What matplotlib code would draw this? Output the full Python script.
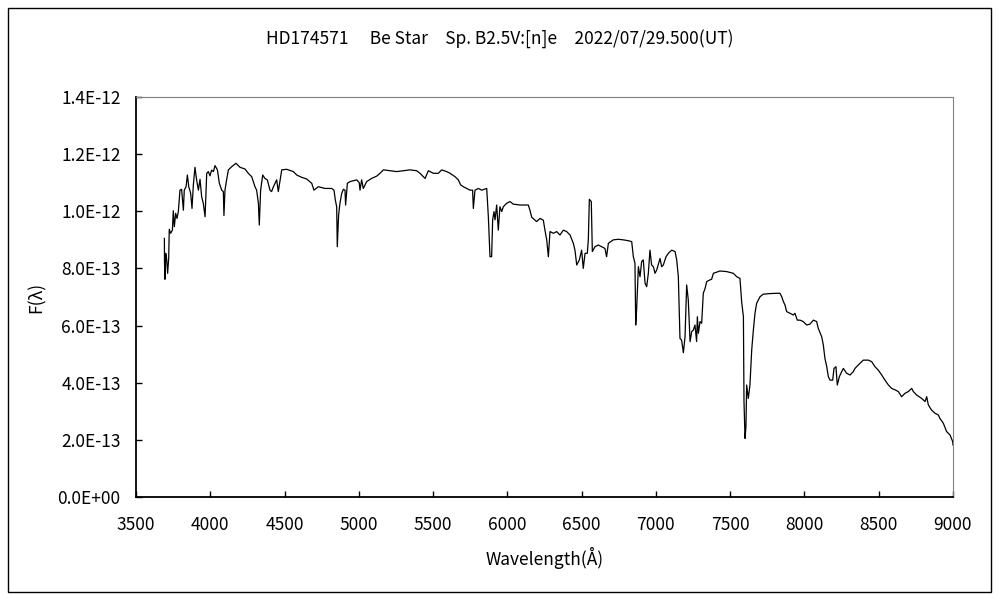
import matplotlib
matplotlib.use("Agg")
import matplotlib.pyplot as plt
from matplotlib.patches import Rectangle
import numpy as np

plt.rcParams['font.family'] = ['Noto Sans CJK JP', 'DejaVu Sans']

# spectrum (wavelength in A, flux in 1E-12)
wavelength = [
    3691, 3692, 3695, 3700, 3706, 3713, 3720, 3724, 3733, 3745, 3751, 3758, 3767, 3776, 3785,
    3796, 3807, 3819, 3825, 3837, 3846, 3855, 3868, 3877, 3886, 3897, 3908, 3920, 3931, 3942,
    3953, 3965, 3976, 3987, 3998, 4009, 4021, 4032, 4048, 4061, 4077, 4088, 4092, 4099, 4110,
    4122, 4144, 4173, 4200, 4234, 4256, 4279, 4301, 4312, 4324, 4330, 4339, 4353, 4368, 4384,
    4402, 4413, 4425, 4447, 4458, 4481, 4514, 4559, 4582, 4615, 4649, 4683, 4698, 4727, 4772,
    4817, 4833, 4842, 4851, 4855, 4864, 4873, 4885, 4896, 4907, 4911, 4923, 4941, 4963, 4986,
    5003, 5008, 5019, 5030, 5053, 5086, 5120, 5143, 5165, 5210, 5255, 5300, 5345, 5389, 5412,
    5446, 5468, 5502, 5535, 5558, 5591, 5614, 5648, 5670, 5686, 5704, 5726, 5748, 5766, 5771,
    5782, 5805, 5827, 5861, 5872, 5883, 5894, 5901, 5910, 5917, 5928, 5939, 5950, 5962, 5973,
    5995, 6018, 6040, 6085, 6141, 6152, 6164, 6186, 6197, 6220, 6242, 6253, 6265, 6276, 6287,
    6310, 6332, 6354, 6377, 6399, 6422, 6444, 6455, 6467, 6484, 6500, 6511, 6523, 6538, 6545,
    6552, 6565, 6572, 6590, 6612, 6635, 6657, 6668, 6680, 6713, 6747, 6781, 6814, 6837, 6848,
    6859, 6864, 6870, 6882, 6893, 6904, 6915, 6927, 6938, 6949, 6960, 6971, 6983, 6994, 7005,
    7028, 7039, 7050, 7068, 7084, 7106, 7129, 7140, 7151, 7162, 7173, 7185, 7196, 7207, 7218,
    7230, 7241, 7252, 7263, 7274, 7279, 7286, 7297, 7308, 7319, 7331, 7342, 7364, 7375, 7387,
    7431, 7476, 7521, 7544, 7566, 7577, 7589, 7593, 7600, 7606, 7611, 7622, 7633, 7645, 7656,
    7667, 7678, 7701, 7723, 7768, 7813, 7835, 7847, 7858, 7869, 7880, 7903, 7925, 7936, 7952,
    7970, 7992, 8015, 8037, 8060, 8082, 8093, 8116, 8127, 8138, 8150, 8161, 8172, 8190, 8199,
    8212, 8221, 8235, 8251, 8262, 8284, 8307, 8329, 8340, 8351, 8374, 8396, 8430, 8452, 8475,
    8497, 8520, 8542, 8565, 8587, 8610, 8632, 8654, 8677, 8699, 8722, 8733, 8755, 8789, 8812,
    8823, 8834, 8856, 8879, 8901, 8912, 8935, 8957, 8980, 8998, 9000,
]
flux = [
    0.905, 0.818, 0.762, 0.853, 0.835, 0.783, 0.835, 0.937, 0.923, 0.934, 1.002, 0.946, 0.993, 0.975, 0.999,
    1.074, 1.077, 1.004, 1.074, 1.086, 1.127, 1.086, 1.063, 1.010, 1.092, 1.154, 1.110, 1.074, 1.112, 1.051,
    1.028, 0.981, 1.133, 1.139, 1.124, 1.144, 1.139, 1.160, 1.145, 1.098, 1.074, 1.069, 0.985, 1.074, 1.110,
    1.145, 1.156, 1.168, 1.154, 1.148, 1.133, 1.121, 1.086, 1.074, 1.028, 0.952, 1.074, 1.127, 1.115, 1.110,
    1.074, 1.069, 1.086, 1.110, 1.069, 1.145, 1.147, 1.139, 1.127, 1.119, 1.113, 1.098, 1.074, 1.086, 1.080,
    1.080, 1.074, 1.039, 1.016, 0.876, 0.987, 1.028, 1.063, 1.077, 1.074, 1.022, 1.098, 1.104, 1.107, 1.110,
    1.100, 1.074, 1.110, 1.080, 1.104, 1.115, 1.123, 1.133, 1.145, 1.142, 1.139, 1.142, 1.145, 1.142, 1.133,
    1.115, 1.142, 1.133, 1.133, 1.145, 1.139, 1.133, 1.121, 1.110, 1.092, 1.086, 1.080, 1.074, 1.074, 1.010,
    1.074, 1.080, 1.074, 1.080, 0.981, 0.841, 0.841, 0.970, 0.999, 0.970, 1.022, 0.934, 1.016, 0.999, 1.016,
    1.028, 1.034, 1.025, 1.022, 1.022, 1.004, 0.979, 0.969, 0.964, 0.975, 0.969, 0.934, 0.900, 0.841, 0.929,
    0.923, 0.929, 0.917, 0.934, 0.929, 0.917, 0.888, 0.864, 0.812, 0.829, 0.864, 0.800, 0.853, 0.853, 0.900,
    1.042, 1.034, 0.859, 0.876, 0.882, 0.876, 0.870, 0.841, 0.888, 0.900, 0.902, 0.900, 0.897, 0.894, 0.841,
    0.818, 0.602, 0.654, 0.806, 0.771, 0.824, 0.830, 0.748, 0.736, 0.783, 0.864, 0.812, 0.806, 0.783, 0.794,
    0.835, 0.806, 0.812, 0.841, 0.853, 0.864, 0.859, 0.830, 0.771, 0.555, 0.549, 0.505, 0.561, 0.742, 0.689,
    0.544, 0.579, 0.584, 0.602, 0.544, 0.631, 0.573, 0.614, 0.608, 0.713, 0.730, 0.754, 0.760, 0.762, 0.783,
    0.791, 0.789, 0.783, 0.771, 0.765, 0.684, 0.631, 0.334, 0.205, 0.246, 0.392, 0.345, 0.392, 0.515, 0.584,
    0.643, 0.678, 0.701, 0.710, 0.712, 0.713, 0.713, 0.701, 0.684, 0.672, 0.649, 0.643, 0.637, 0.643, 0.619,
    0.619, 0.614, 0.602, 0.605, 0.619, 0.614, 0.590, 0.561, 0.532, 0.485, 0.456, 0.421, 0.409, 0.409, 0.450,
    0.456, 0.392, 0.421, 0.439, 0.450, 0.433, 0.427, 0.439, 0.450, 0.456, 0.468, 0.479, 0.479, 0.474, 0.456,
    0.444, 0.427, 0.409, 0.392, 0.380, 0.375, 0.369, 0.351, 0.363, 0.369, 0.380, 0.369, 0.357, 0.345, 0.334,
    0.351, 0.322, 0.304, 0.293, 0.287, 0.275, 0.258, 0.229, 0.217, 0.194, 0.182,
]

x_ticks = [3500, 4000, 4500, 5000, 5500, 6000, 6500, 7000, 7500, 8000, 8500, 9000]
y_ticks = [0.0, 0.2e-12, 0.4e-12, 0.6e-12, 0.8e-12, 1.0e-12, 1.2e-12, 1.4e-12]
y_labels = ['0.0E+00', '2.0E-13', '4.0E-13', '6.0E-13', '8.0E-13', '1.0E-12', '1.2E-12', '1.4E-12']

fig = plt.figure(figsize=(10, 6), dpi=100)
ax = fig.add_axes([0.136, 0.1717, 0.817, 0.6666])

ax.plot(wavelength, np.array(flux) * 1e-12, color='black', lw=0.9)

ax.set_xlim(3500, 9000)
ax.set_ylim(0, 1.4e-12)
ax.set_xticks(x_ticks)
ax.set_yticks(y_ticks)
ax.set_yticklabels(y_labels)
ax.tick_params(direction='in', length=4, width=1, labelsize=12.5)
ax.tick_params(axis='x', pad=14)
ax.tick_params(axis='y', pad=11)

ax.spines['left'].set_linewidth(1.3)
ax.spines['bottom'].set_linewidth(1.3)
ax.spines['top'].set_color('#808080')
ax.spines['right'].set_color('#808080')

ax.set_xlabel('Wavelength(Å)', fontsize=12.5)
ax.set_ylabel('F(λ)', fontsize=12.5)
ax.xaxis.set_label_coords(0.5, -0.125)
ax.yaxis.set_label_coords(-0.11, 0.5)

fig.text(0.5, 0.935, 'HD174571　 Be Star　Sp. B2.5V:[n]e　2022/07/29.500(UT)',
         ha='center', va='center', fontsize=12.5)

# outer frame of the chart
fig.patches.append(Rectangle((0.008, 0.013), 0.983, 0.973, transform=fig.transFigure,
                             fill=False, edgecolor='black', lw=1))

fig.savefig('out.png', dpi=100)
